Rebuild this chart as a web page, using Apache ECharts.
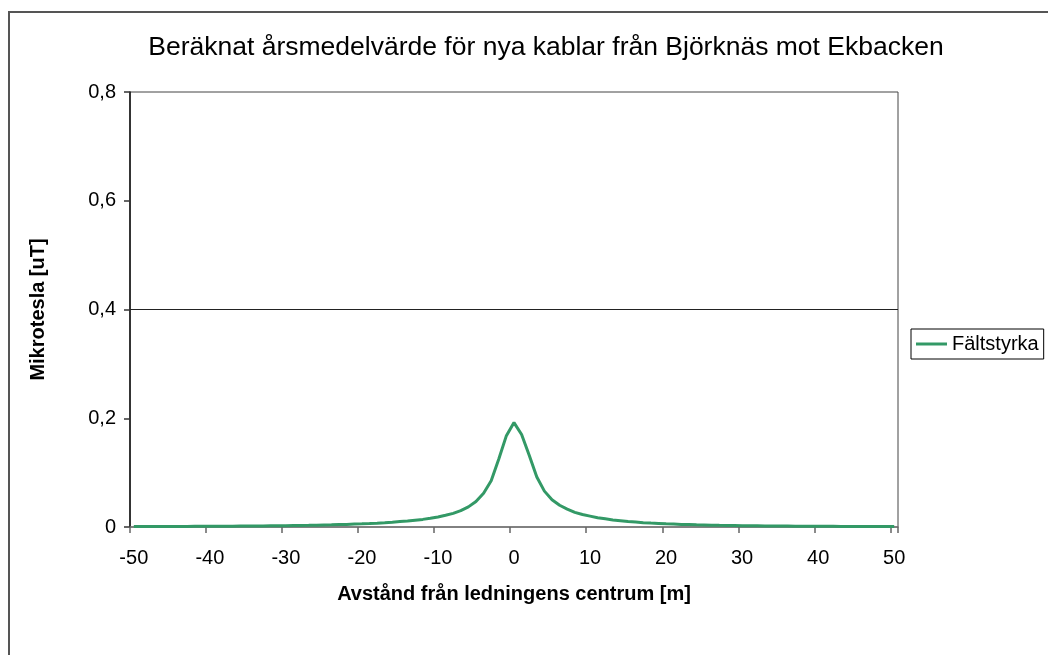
<!DOCTYPE html>
<html>
<head>
<meta charset="utf-8">
<script src="https://cdn.jsdelivr.net/npm/echarts@6/dist/echarts.min.js"></script>
<style>
html,body{margin:0;padding:0;background:#fff;}
#chart{width:1048px;height:655px;}
</style>
</head>
<body>
<div id="chart"></div>
<script>
const titleText = 'Beräknat årsmedelvärde för nya kablar från Björknäs mot Ekbacken';
const xAxisName = 'Avstånd från ledningens centrum [m]';
const yAxisName = 'Mikrotesla [uT]';
const seriesName = 'Fältstyrka';

const distances = [
  -50,-49,-48,-47,-46,-45,-44,-43,-42,-41,
  -40,-39,-38,-37,-36,-35,-34,-33,-32,-31,
  -30,-29,-28,-27,-26,-25,-24,-23,-22,-21,
  -20,-19,-18,-17,-16,-15,-14,-13,-12,-11,
  -10,-9,-8,-7,-6,-5,-4,-3,-2,-1,
  0,
  1,2,3,4,5,6,7,8,9,10,
  11,12,13,14,15,16,17,18,19,20,
  21,22,23,24,25,26,27,28,29,30,
  31,32,33,34,35,36,37,38,39,40,
  41,42,43,44,45,46,47,48,49,50
];

const fieldStrength = [
  0.0008,0.0008,0.0009,0.0009,0.0010,0.0010,0.0011,0.0011,0.0012,0.0013,
  0.0013,0.0014,0.0015,0.0016,0.0017,0.0018,0.0019,0.0020,0.0022,0.0023,
  0.0025,0.0027,0.0029,0.0031,0.0034,0.0037,0.0040,0.0044,0.0048,0.0053,
  0.0058,0.0064,0.0071,0.0079,0.0088,0.0099,0.0110,0.0125,0.0140,0.0160,
  0.0185,0.0215,0.0250,0.0300,0.0370,0.0470,0.0620,0.0850,0.1250,0.1680,
  0.1920,
  0.1700,0.1320,0.0920,0.0660,0.0500,0.0400,0.0330,0.0270,0.0230,0.0200,
  0.0170,0.0150,0.0130,0.0115,0.0100,0.0090,0.0080,0.0072,0.0065,0.0058,
  0.0053,0.0048,0.0044,0.0040,0.0037,0.0034,0.0031,0.0029,0.0027,0.0025,
  0.0023,0.0022,0.0020,0.0019,0.0018,0.0017,0.0016,0.0015,0.0014,0.0013,
  0.0013,0.0012,0.0011,0.0011,0.0010,0.0010,0.0009,0.0009,0.0008,0.0008
];

const yTicks = [0, 0.2, 0.4, 0.6, 0.8];
const referenceLevel = 0.4;

const FONT = '"Liberation Sans", Arial, sans-serif';
const chart = echarts.init(document.getElementById('chart'), null, {renderer: 'canvas'});

chart.setOption({
  animation: false,
  backgroundColor: '#ffffff',
  textStyle: {fontFamily: FONT, color: '#000'},
  graphic: [{
    type: 'rect',
    shape: {x: 9, y: 12, width: 1100, height: 700},
    style: {fill: 'none', stroke: '#555', lineWidth: 2},
    silent: true,
    z: -1
  }],
  title: {
    text: titleText,
    left: 541,
    top: 29,
    textAlign: 'center',
    textStyle: {fontFamily: FONT, fontSize: 26.5, fontWeight: 'normal', color: '#000'}
  },
  legend: {
    left: 911,
    top: 329,
    orient: 'vertical',
    icon: 'rect',
    itemWidth: 31,
    itemHeight: 3,
    itemGap: 5,
    padding: [5, 5, 5, 5],
    borderColor: '#000',
    borderWidth: 1,
    textStyle: {fontFamily: FONT, fontSize: 20, color: '#000', padding: [0, 0, 0, 0]},
    data: [seriesName]
  },
  grid: {
    left: 130,
    right: 150,
    top: 92,
    bottom: 128,
    show: true,
    borderColor: '#444',
    borderWidth: 1,
    containLabel: false
  },
  xAxis: {
    type: 'category',
    data: distances,
    boundaryGap: true,
    name: xAxisName,
    nameLocation: 'middle',
    nameGap: 57,
    nameTextStyle: {fontFamily: FONT, fontSize: 20, fontWeight: 'bold', color: '#000'},
    axisLine: {show: true, lineStyle: {color: '#777', width: 1.5}},
    axisTick: {show: true, interval: 9, length: 6, lineStyle: {color: '#666', width: 1.5}},
    axisLabel: {interval: 9, margin: 21, fontFamily: FONT, fontSize: 20, color: '#000'},
    splitLine: {show: false}
  },
  yAxis: {
    type: 'value',
    min: yTicks[0],
    max: yTicks[yTicks.length - 1],
    interval: 0.2,
    name: yAxisName,
    nameLocation: 'middle',
    nameRotate: 90,
    nameGap: 82,
    nameTextStyle: {fontFamily: FONT, fontSize: 20, fontWeight: 'bold', color: '#000'},
    axisLine: {show: true, lineStyle: {color: '#111', width: 1.5}},
    axisTick: {show: true, length: 6, lineStyle: {color: '#333', width: 1.5}},
    axisLabel: {
      margin: 14,
      fontFamily: FONT,
      fontSize: 20,
      color: '#000',
      formatter: function (v) { return String(Math.round(v * 10) / 10).replace('.', ','); }
    },
    splitLine: {show: false}
  },
  series: [{
    name: seriesName,
    type: 'line',
    data: fieldStrength,
    symbol: 'none',
    smooth: false,
    lineStyle: {color: '#339966', width: 3},
    itemStyle: {color: '#339966'},
    markLine: {
      silent: true,
      symbol: ['none', 'none'],
      label: {show: false},
      lineStyle: {color: '#222', width: 1, type: 'solid'},
      data: [{yAxis: referenceLevel}]
    },
    z: 3
  }]
});
</script>
</body>
</html>
